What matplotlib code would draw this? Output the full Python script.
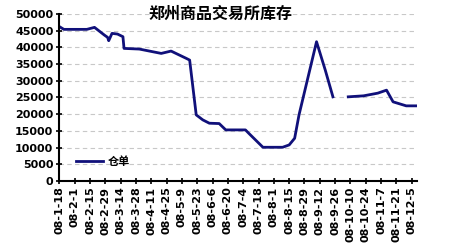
import matplotlib
matplotlib.use('Agg')
import matplotlib.pyplot as plt
import numpy as np
import pandas as pd

# readings (warehouse receipts, 仓单)
dates = ['2008-01-18', '2008-01-22', '2008-02-12', '2008-02-19', '2008-02-28',
         '2008-03-02', '2008-03-03', '2008-03-06', '2008-03-11', '2008-03-16',
         '2008-03-17', '2008-03-31', '2008-04-20', '2008-04-29', '2008-05-13',
         '2008-05-16', '2008-05-22', '2008-05-28', '2008-06-03', '2008-06-12',
         '2008-06-18', '2008-07-06', '2008-07-09', '2008-07-22', '2008-08-09',
         '2008-08-15', '2008-08-20', '2008-08-24', '2008-09-09', '2008-09-17',
         '2008-09-24', '2008-10-01', '2008-10-08', '2008-10-22', '2008-11-04',
         '2008-11-12', '2008-11-18', '2008-11-30', '2008-12-09']
receipts = [46200, 45400, 45400, 46000, 43700,
            43000, 42000, 44200, 44000, 43200,
            39700, 39500, 38200, 38900, 36700,
            36200, 19800, 18300, 17300, 17200,
            15300, 15300, 14300, 10100, 10100,
            10800, 12800, 19800, 41700, 33200,
            25200, np.nan, 25200, 25500, 26300,
            27200, 23700, 22500, 22500]

tick_dates = pd.date_range('2008-01-18', '2008-12-05', freq='14D')
tick_labels = ['08-%d-%d' % (d.month, d.day) for d in tick_dates]

title = '郑州商品交易所库存'
series_name = '仓单'

cjk = ['Noto Sans CJK SC', 'DejaVu Sans']

fig = plt.figure(figsize=(4.5, 2.5), dpi=100)
ax = fig.add_axes([0.131, 0.276, 0.796, 0.668])

x = pd.to_datetime(dates)
ax.plot(x, receipts, color='#10107a', lw=2, label=series_name)

ax.set_xlim(pd.Timestamp('2008-01-17 12:00'), pd.Timestamp('2008-12-10'))
ax.set_ylim(0, 50000)
ax.set_yticks(np.arange(0, 50001, 5000))
ax.set_xticks(tick_dates)
ax.set_xticklabels(tick_labels, rotation=90, fontsize=8, fontweight='bold')
for t in ax.get_yticklabels():
    t.set_fontsize(8)
    t.set_fontweight('bold')

ax.grid(axis='y', color='#c8c8c8', linestyle=(0, (4, 3)), lw=0.8)
ax.set_axisbelow(True)
for s in ['top', 'right']:
    ax.spines[s].set_visible(False)
for s in ['left', 'bottom']:
    ax.spines[s].set_linewidth(1.5)
ax.tick_params(direction='inout', length=4, width=1.2, pad=2)

fig.text(0.49, 0.945, title, ha='center', va='center', fontsize=11.5,
         fontweight='bold', family=cjk)

ax.legend(loc='lower left', bbox_to_anchor=(0.025, 0.03), frameon=False,
          prop={'family': cjk, 'size': 8, 'weight': 'bold'},
          handlelength=2.5, borderaxespad=0.3, handletextpad=0.4)

fig.savefig('out.png', dpi=100)
